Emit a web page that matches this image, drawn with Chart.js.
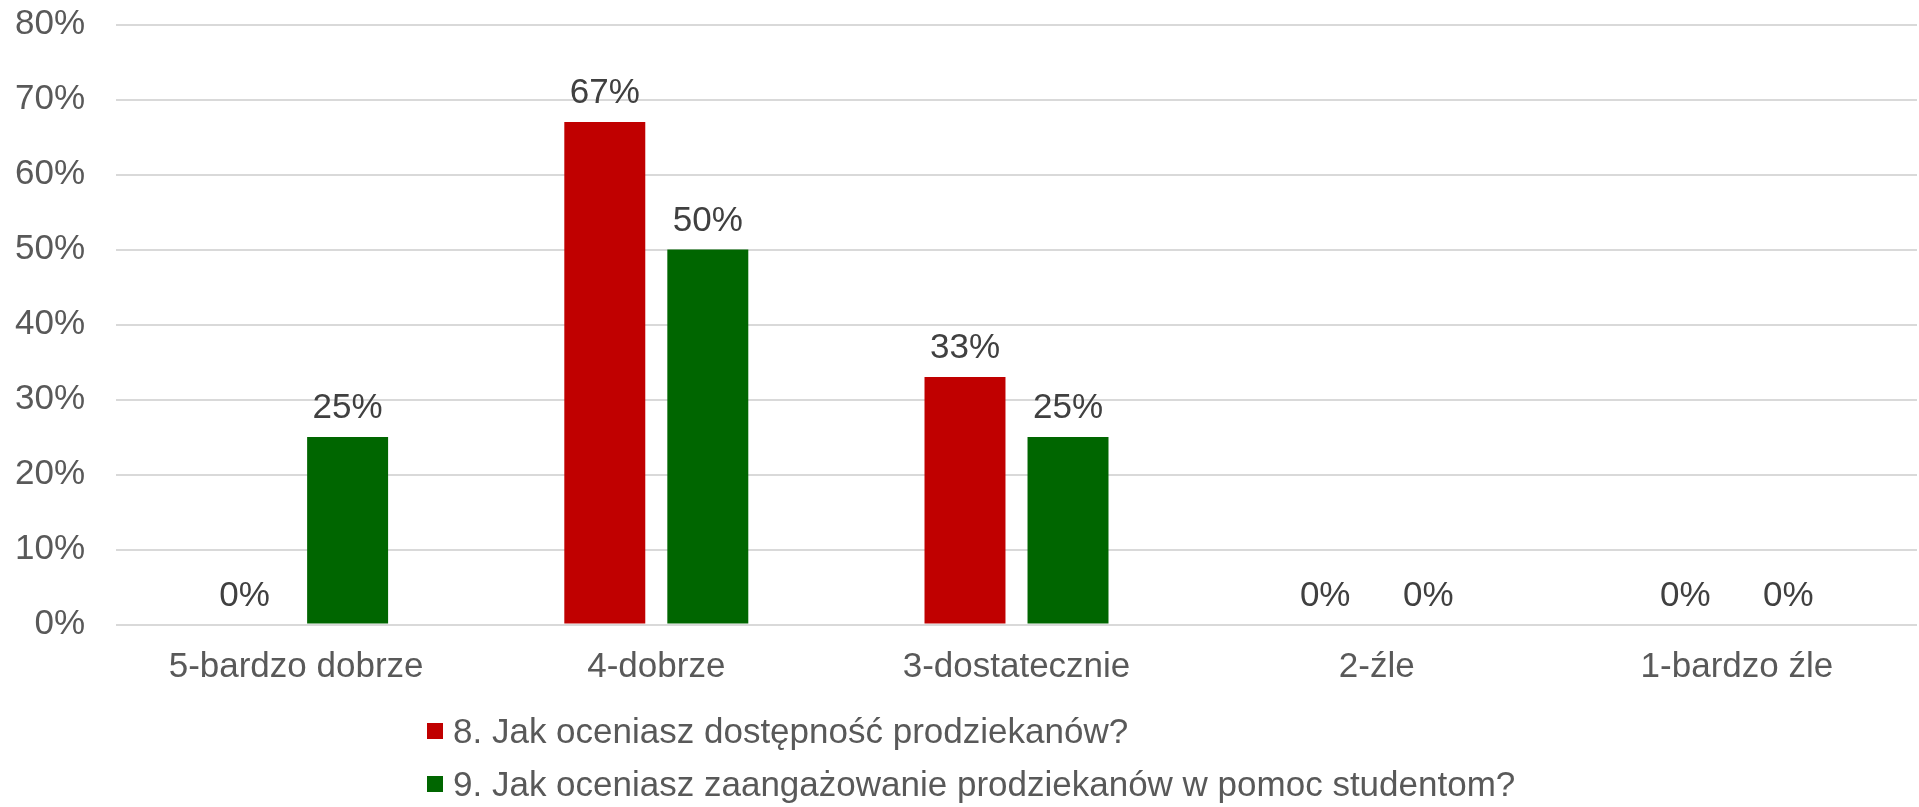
<!DOCTYPE html>
<html>
<head>
<meta charset="utf-8">
<script src="https://cdn.jsdelivr.net/npm/chart.js@4.4.0/dist/chart.umd.min.js"></script>
<style>
html, body { margin: 0; padding: 0; background: #fff; }
#wrap { position: relative; width: 1919px; height: 807px; overflow: hidden; }
#legenda { position: absolute; left: 427px; top: 704px; font-family: "Liberation Sans", Arial, sans-serif; font-size: 35px; color: #595959; }
.pozycja { display: flex; align-items: center; height: 53px; white-space: nowrap; }
.kolor { width: 16px; height: 16px; margin-right: 10px; }
</style>
</head>
<body>
<div id="wrap">
    <canvas id="wykres" width="1919" height="807"></canvas>
    <div id="legenda"></div>
</div>
<script>
const kategorie = ["5-bardzo dobrze", "4-dobrze", "3-dostatecznie", "2-źle", "1-bardzo źle"];
const dostepnosc = [0, 67, 33, 0, 0];
const zaangazowanie = [25, 50, 25, 0, 0];
const nazwySerii = [
    "8. Jak oceniasz dostępność prodziekanów?",
    "9. Jak oceniasz zaangażowanie prodziekanów w pomoc studentom?"
];
const kolorySerii = ["#C00000", "#006600"];

const czcionka = '"Liberation Sans", Arial, sans-serif';

// etykiety z wartosciami nad slupkami
const etykietyDanych = {
    id: "etykietyDanych",
    afterDatasetsDraw(chart) {
        const ctx = chart.ctx;
        ctx.save();
        ctx.font = "35px " + czcionka;
        ctx.fillStyle = "#404040";
        ctx.textAlign = "center";
        ctx.textBaseline = "alphabetic";
        chart.data.datasets.forEach((ds, i) => {
            chart.getDatasetMeta(i).data.forEach((slupek, j) => {
                ctx.fillText(ds.data[j] + "%", slupek.x, slupek.y - 19);
            });
        });
        ctx.restore();
    }
};

const wykres = new Chart(document.getElementById("wykres"), {
    type: "bar",
    data: {
        labels: kategorie,
        datasets: [
            { label: nazwySerii[0], data: dostepnosc, backgroundColor: kolorySerii[0] },
            { label: nazwySerii[1], data: zaangazowanie, backgroundColor: kolorySerii[1] }
        ]
    },
    options: {
        responsive: false,
        animation: false,
        categoryPercentage: 0.572,
        barPercentage: 0.786,
        layout: { padding: { left: 15, right: 2, top: 24.5, bottom: 104.5 } },
        plugins: {
            legend: { display: false },
            tooltip: { enabled: false }
        },
        scales: {
            x: {
                grid: { display: false },
                border: { display: false },
                ticks: { color: "#595959", font: { family: czcionka, size: 35 }, padding: 14 },
                afterFit: s => { s.paddingLeft = 0; s.paddingRight = 0; }
            },
            y: {
                min: 0,
                max: 80,
                border: { display: false },
                grid: { color: "#d9d9d9", lineWidth: 2, drawTicks: false },
                ticks: {
                    stepSize: 10,
                    color: "#595959",
                    font: { family: czcionka, size: 35 },
                    padding: 31,
                    callback: v => v + "%"
                },
                afterFit: s => { s.width = 101; s.paddingTop = 0; s.paddingBottom = 0; }
            }
        }
    },
    plugins: [etykietyDanych]
});

// legenda w HTML, jedna seria pod druga
const legenda = document.getElementById("legenda");
wykres.data.datasets.forEach(ds => {
    const poz = document.createElement("div");
    poz.className = "pozycja";
    const kw = document.createElement("span");
    kw.className = "kolor";
    kw.style.background = ds.backgroundColor;
    const tekst = document.createElement("span");
    tekst.textContent = ds.label;
    poz.appendChild(kw);
    poz.appendChild(tekst);
    legenda.appendChild(poz);
});
</script>
</body>
</html>
